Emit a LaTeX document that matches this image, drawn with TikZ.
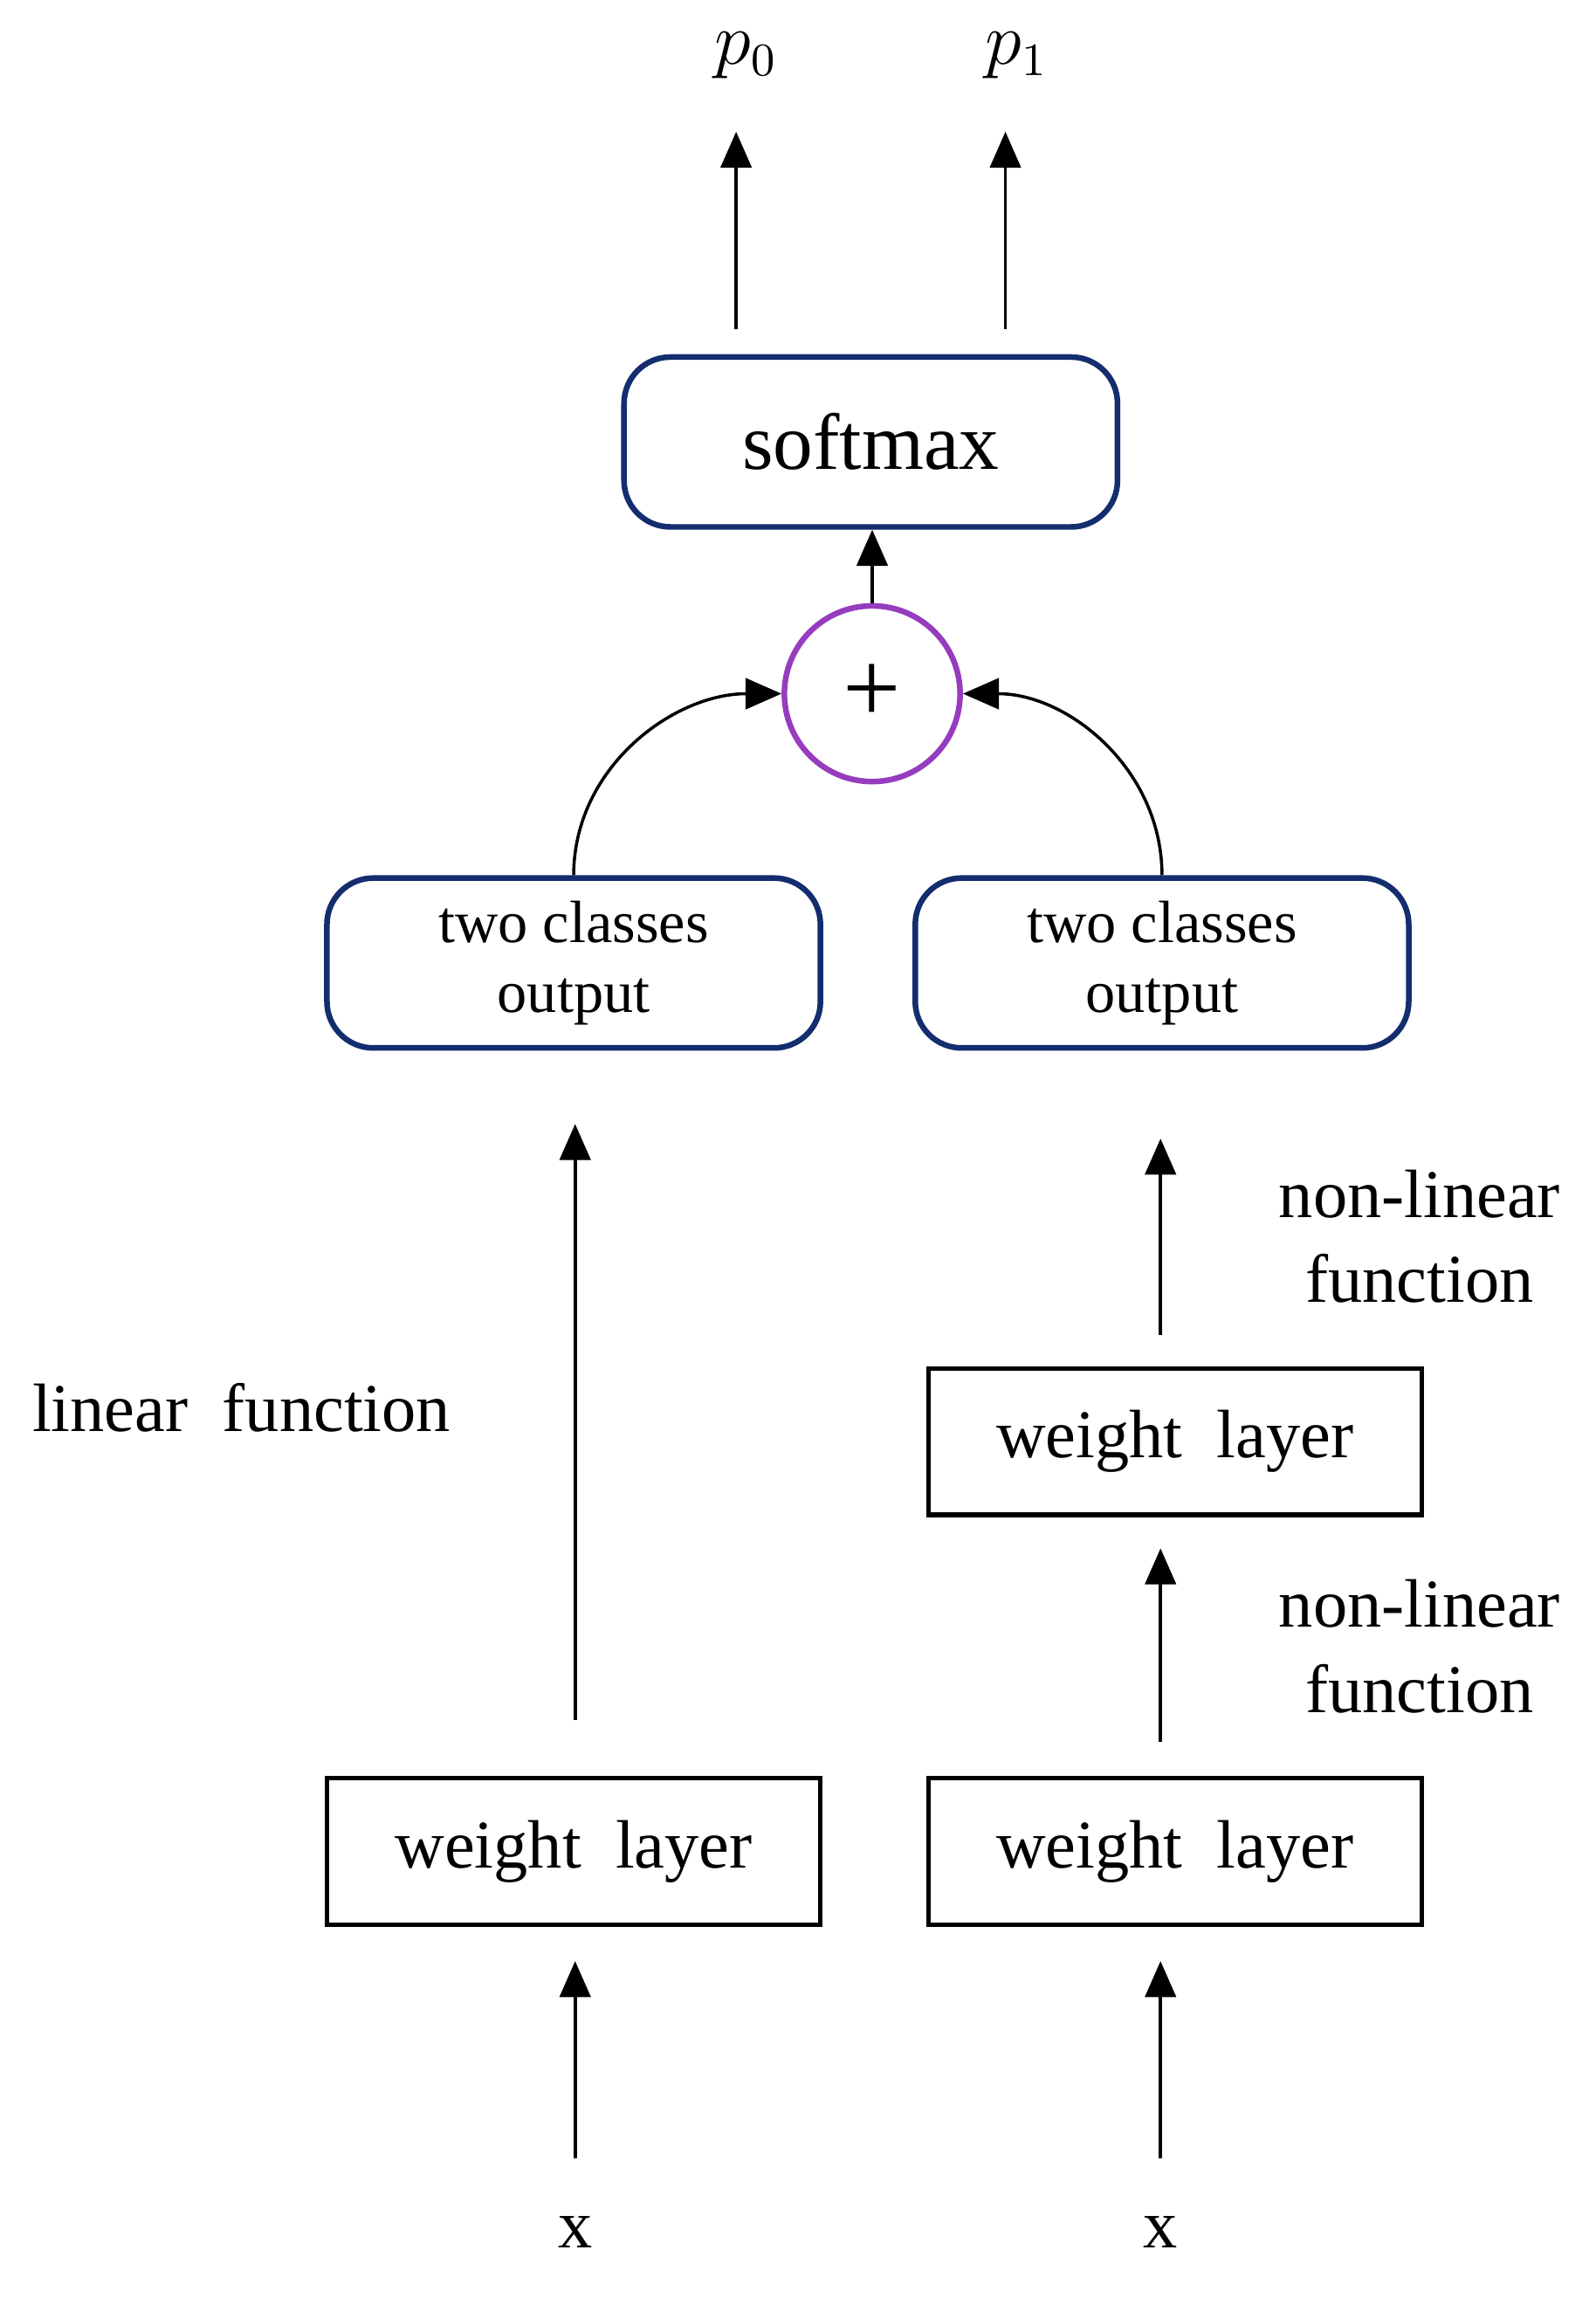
\documentclass[tikz,border=0pt]{standalone}
\usepackage{fontspec}
\setmainfont{Liberation Serif}
\usetikzlibrary{arrows.meta}
\definecolor{boxblue}{RGB}{20,45,110}
\definecolor{pluspurple}{RGB}{150,60,190}
\tikzset{
  rbox/.style={draw=boxblue,line width=1.1pt,rounded corners=9pt,minimum width=3.37cm,minimum height=1.16cm,align=center,font=\fontsize{11.6}{13.5}\selectfont},
  wbox/.style={draw,line width=0.9pt,minimum width=3.37cm,minimum height=1cm,font=\fontsize{13.3}{15}\selectfont},
  lbl/.style={font=\fontsize{13.3}{16.5}\selectfont,align=center},
  arr/.style={-{Triangle[length=7pt,width=6pt]},line width=0.6pt}
}
\begin{document}
\begin{tikzpicture}[x=0.01cm,y=-0.01cm]
\useasboundingbox (0,0) rectangle (1090,1575);

% top
\node[rbox,font=\fontsize{15.5}{17}\selectfont] (soft) at (595,302) {softmax};
\node[draw=pluspurple,line width=1.1pt,circle,minimum size=1.2cm,inner sep=0pt,font=\fontsize{20}{20}\selectfont] (plus) at (596,474) {+};
\node[lbl] (p0) at (510,38) {$p_0$};
\node[lbl] (p1) at (695,38) {$p_1$};
\coordinate (s0) at (503,225);
\coordinate (s1) at (687,225);
\draw[arr] (s0) -- (503,90);
\draw[arr] (s1) -- (687,90);
\draw[arr] (plus.north) -- (plus.north |- soft.south);

% outputs
\node[rbox] (outl) at (392,658) {two classes\\output};
\node[rbox] (outr) at (794,658) {two classes\\output};
\draw[arr] (outl.north) to[out=90,in=180] (plus.west);
\draw[arr] (outr.north) to[out=90,in=0] (plus.east);

% left branch
\node[wbox] (wl) at (392,1265) {weight\ \ layer};
\node[lbl] (xl) at (393,1525) {x};
\coordinate (al) at (393,1175);
\coordinate (bl) at (393,768);
\draw[arr] (al) -- (bl);
\draw[arr] (393,1475) -- (393,1340);
\node[lbl] (lin) at (165,962) {linear\ \ function};

% right branch
\node[wbox] (wr1) at (803,1265) {weight\ \ layer};
\node[wbox] (wr2) at (803,985) {weight\ \ layer};
\node[lbl] (xr) at (793,1525) {x};
\draw[arr] (793,1475) -- (793,1340);
\draw[arr] (793,1190) -- (793,1058);
\draw[arr] (793,912) -- (793,778);
\node[lbl] (nl1) at (970,845) {non-linear\\function};
\node[lbl] (nl2) at (970,1125) {non-linear\\function};
\end{tikzpicture}
\end{document}
